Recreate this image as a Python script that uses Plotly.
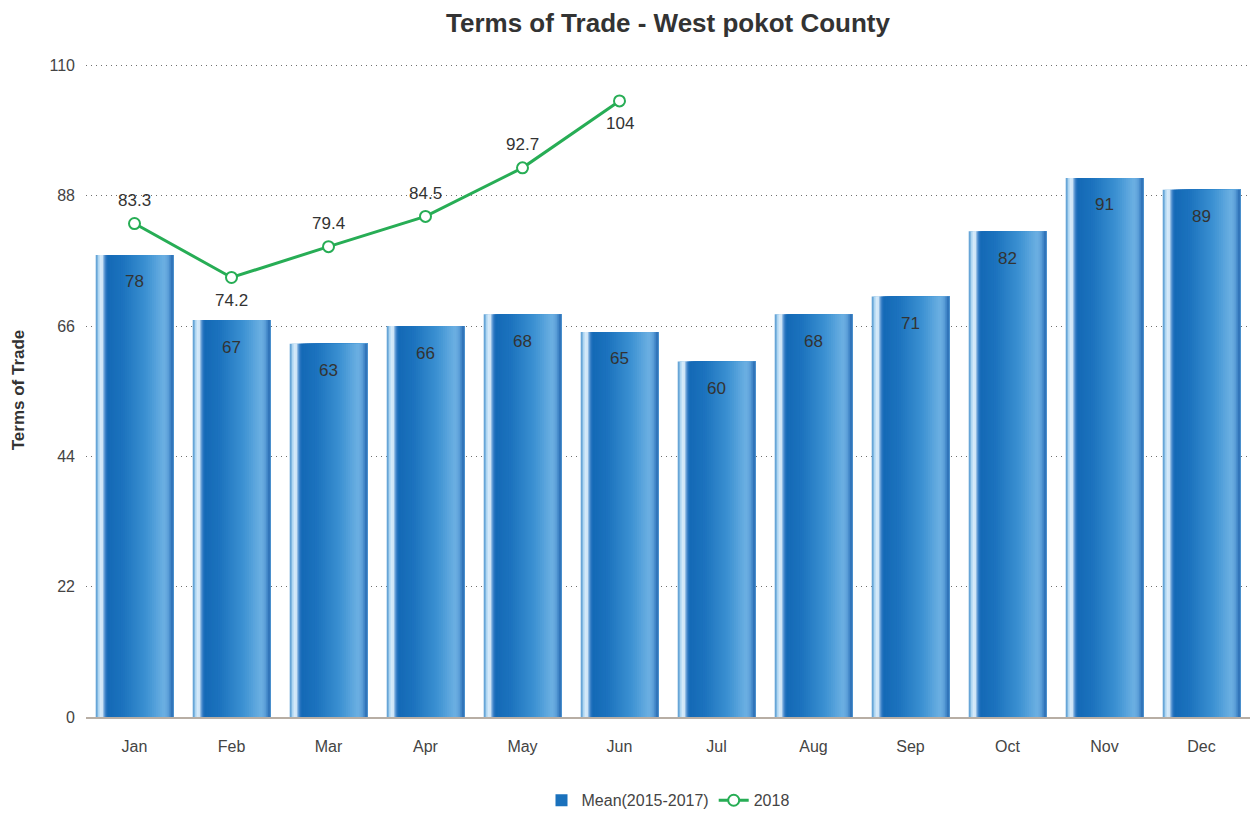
import plotly.graph_objects as go

months = ["Jan", "Feb", "Mar", "Apr", "May", "Jun", "Jul", "Aug", "Sep", "Oct", "Nov", "Dec"]
mean_2015_2017 = [78, 67, 63, 66, 68, 65, 60, 68, 71, 82, 91, 89]
months_2018 = ["Jan", "Feb", "Mar", "Apr", "May", "Jun"]
values_2018 = [83.3, 74.2, 79.4, 84.5, 92.7, 104]
label_below_2018 = [False, True, False, False, False, True]
y_ticks = [0, 22, 44, 66, 88, 110]

FONT = "Liberation Sans, Arial, sans-serif"
GREEN = "#27ad55"

# horizontal colour stops across a bar (fraction of width -> rgb), giving a cylinder look
stops = [
    (0.00, (70, 140, 200)),
    (0.03, (150, 200, 235)),
    (0.05, (215, 235, 250)),
    (0.09, (205, 228, 246)),
    (0.12, (60, 130, 200)),
    (0.15, (20, 105, 182)),
    (0.35, (28, 115, 190)),
    (0.65, (60, 145, 210)),
    (0.88, (108, 176, 226)),
    (0.93, (95, 162, 218)),
    (0.97, (58, 128, 195)),
    (1.00, (45, 110, 180)),
]


def shade(t):
    for (t0, c0), (t1, c1) in zip(stops, stops[1:]):
        if t0 <= t <= t1:
            f = 0 if t1 == t0 else (t - t0) / (t1 - t0)
            r, g, b = (round(a + (bb - a) * f) for a, bb in zip(c0, c1))
            return f"rgb({r},{g},{b})"
    return "rgb(45,110,180)"


fig = go.Figure()

# each layer starts a little further right and runs to the bar's right edge,
# so the later layers paint over the earlier ones without seams
bar_width = 0.8
n_layers = 40
step = bar_width / n_layers
legend_layer = 12
for i in range(n_layers):
    fig.add_trace(go.Bar(
        x=months, y=mean_2015_2017,
        width=bar_width - i * step, offset=-bar_width / 2 + i * step,
        marker=dict(color=shade((i + 0.5) / n_layers), line=dict(width=0)),
        name="Mean(2015-2017)",
        showlegend=(i == legend_layer), legendgroup="mean",
        hoverinfo="skip" if i != legend_layer else None,
    ))

fig.add_trace(go.Scatter(
    x=months_2018, y=values_2018, mode="lines+markers", name="2018",
    line=dict(color=GREEN, width=3),
    marker=dict(size=11, color="white", line=dict(color=GREEN, width=2)),
))

annotations = []
for m, v in zip(months, mean_2015_2017):
    annotations.append(dict(x=m, y=v, yshift=-27, text=str(v), showarrow=False,
                            font=dict(family=FONT, size=17, color="#333333")))
for m, v, below in zip(months_2018, values_2018, label_below_2018):
    annotations.append(dict(x=m, y=v, yshift=-23 if below else 23, text=f"{v:g}",
                            showarrow=False,
                            font=dict(family=FONT, size=17, color="#333333")))

fig.update_layout(
    width=1257, height=815,
    margin=dict(l=86, r=7, t=63, b=98),
    paper_bgcolor="white", plot_bgcolor="white",
    barmode="overlay", bargap=0.2,
    font=dict(family=FONT, size=16, color="#444444"),
    title=dict(text="<b>Terms of Trade - West pokot County</b>",
               x=0.5, xref="paper", xanchor="center", y=0.972, yanchor="middle",
               font=dict(family=FONT, size=26, color="#333333")),
    xaxis=dict(type="category", range=[-0.5, 11.5], showgrid=False, showline=True,
               linecolor="#b8aea4", linewidth=1.5, ticks="", ticklabelstandoff=14,
               tickfont=dict(size=16, color="#444444")),
    yaxis=dict(range=[0, 110.4], tickvals=y_ticks, showgrid=True, gridcolor="#707070",
               griddash="1px,4px", gridwidth=1, zeroline=False, ticks="",
               ticklabelstandoff=10,
               tickfont=dict(size=16, color="#444444"),
               title=dict(text="<b>Terms of Trade</b>", standoff=20,
                          font=dict(size=17, color="#333333"))),
    legend=dict(orientation="h", x=0.5, xanchor="center", xref="paper",
                y=0.018, yref="container", yanchor="middle",
                font=dict(size=16, color="#444444")),
    annotations=annotations,
)

fig.write_html("out.html")
